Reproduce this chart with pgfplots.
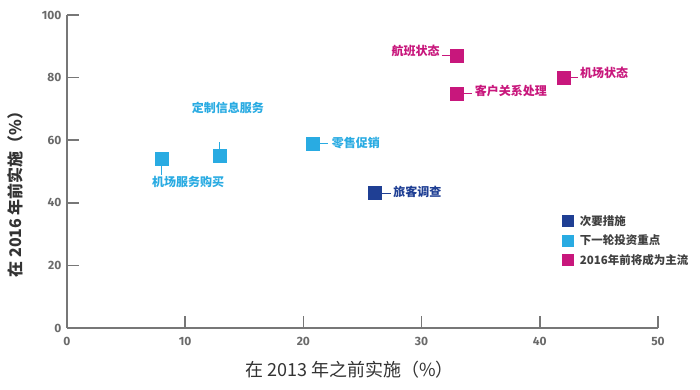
\documentclass[border=0pt]{standalone}
\usepackage{pgfplots}
\pgfplotsset{compat=1.18}
\usepackage{fontspec}
\setmainfont{Noto Sans CJK SC}
\newfontfamily\tickfont{Fira Sans}
\definecolor{cdark}{HTML}{1F3F94}
\definecolor{clight}{HTML}{29ABE2}
\definecolor{cmag}{HTML}{C8177C}
\definecolor{axgray}{HTML}{777777}
\definecolor{tkgray}{HTML}{6A6A6A}
\begin{document}
\begin{tikzpicture}[x=1pt,y=1pt]
\useasboundingbox (0,0) rectangle (700,390);
\begin{axis}[
  at={(67pt,62pt)}, anchor=south west,
  scale only axis, width=591pt, height=313pt,
  xmin=0, xmax=50, ymin=0, ymax=100,
  axis lines*=left,
  axis line style={axgray, line width=1.5pt},
  xtick={0,10,...,50}, ytick={0,20,...,100},
  major tick length=12pt,
  tick align=inside,
  tick style={axgray, line width=1.5pt},
  /pgf/number format/assume math mode=true,
  ticklabel style={font=\tickfont\bfseries\fontsize{12}{14}\selectfont, text=tkgray},
  xticklabel style={yshift=-6pt},
  yticklabel style={xshift=-2pt},
  xlabel={在 2013 年之前实施（\%）},
  xlabel style={font=\fontsize{18}{20}\selectfont, text=black!80, at={(axis description cs:0.478,0)}, anchor=center, yshift=-42pt},
  ylabel={在 2016 年前实施（\%）},
  ylabel style={font=\bfseries\fontsize{16}{18}\selectfont, text=black!80, at={(axis description cs:0,0.44)}, anchor=center, yshift=52pt},
  clip=false,
  legend style={at={(axis cs:41.9,36.4)}, anchor=north west, draw=none, fill=none,
    font=\bfseries\fontsize{11.5}{13}\selectfont, text=black!75, row sep=6pt,
    inner sep=0pt, nodes={inner sep=1pt}},
  legend cell align=left,
  legend image code/.code={\fill[#1] (0pt,-5.5pt) rectangle (11pt,5.5pt);},
  legend columns=1,
]
\addplot[only marks, mark=square*, mark size=6.5pt, color=cdark] coordinates {(26.0,43.1)};
\addlegendentry{\hspace{5pt}次要措施}
\addplot[only marks, mark=square*, mark size=6.5pt, color=clight] coordinates {(8.0,54) (12.9,55) (20.8,58.8)};
\addlegendentry{\hspace{5pt}下一轮投资重点}
\addplot[only marks, mark=square*, mark size=6.5pt, color=cmag] coordinates {(33.0,87) (33.0,75) (42.0,80)};
\addlegendentry{\hspace{5pt}2016年前将成为主流}
% connectors
\draw[clight, line width=1pt] (axis cs:8.0,51.9) -- (axis cs:8.0,48.9);
\draw[clight, line width=1pt] (axis cs:12.9,57.1) -- (axis cs:12.9,59.3);
\draw[clight, line width=1pt] (axis cs:21.35,58.8) -- (axis cs:22.1,58.8);
\draw[cdark, line width=1pt] (axis cs:26.55,43.1) -- (axis cs:27.4,43.1);
\draw[cmag, line width=1pt] (axis cs:32.45,86.9) -- (axis cs:31.75,86.9);
\draw[cmag, line width=1pt] (axis cs:33.55,75) -- (axis cs:34.3,75);
\draw[cmag, line width=1pt] (axis cs:42.55,80) -- (axis cs:43.2,80);
% labels
\tikzset{lab/.style={font=\bfseries\fontsize{12}{14}\selectfont, inner sep=0pt}}
\node[lab, text=clight] at (axis cs:10.24,46.6) {机场服务购买};
\node[lab, text=clight] at (axis cs:13.6,70.3) {定制信息服务};
\node[lab, text=clight, anchor=west] at (axis cs:22.4,59.2) {零售促销};
\node[lab, text=cdark, anchor=west] at (axis cs:27.6,43.6) {旅客调查};
\node[lab, text=cmag, anchor=east] at (axis cs:31.55,88.6) {航班状态};
\node[lab, text=cmag, anchor=west] at (axis cs:34.5,75.9) {客户关系处理};
\node[lab, text=cmag, anchor=west] at (axis cs:43.4,81.6) {机场状态};
\end{axis}
\end{tikzpicture}
\end{document}
